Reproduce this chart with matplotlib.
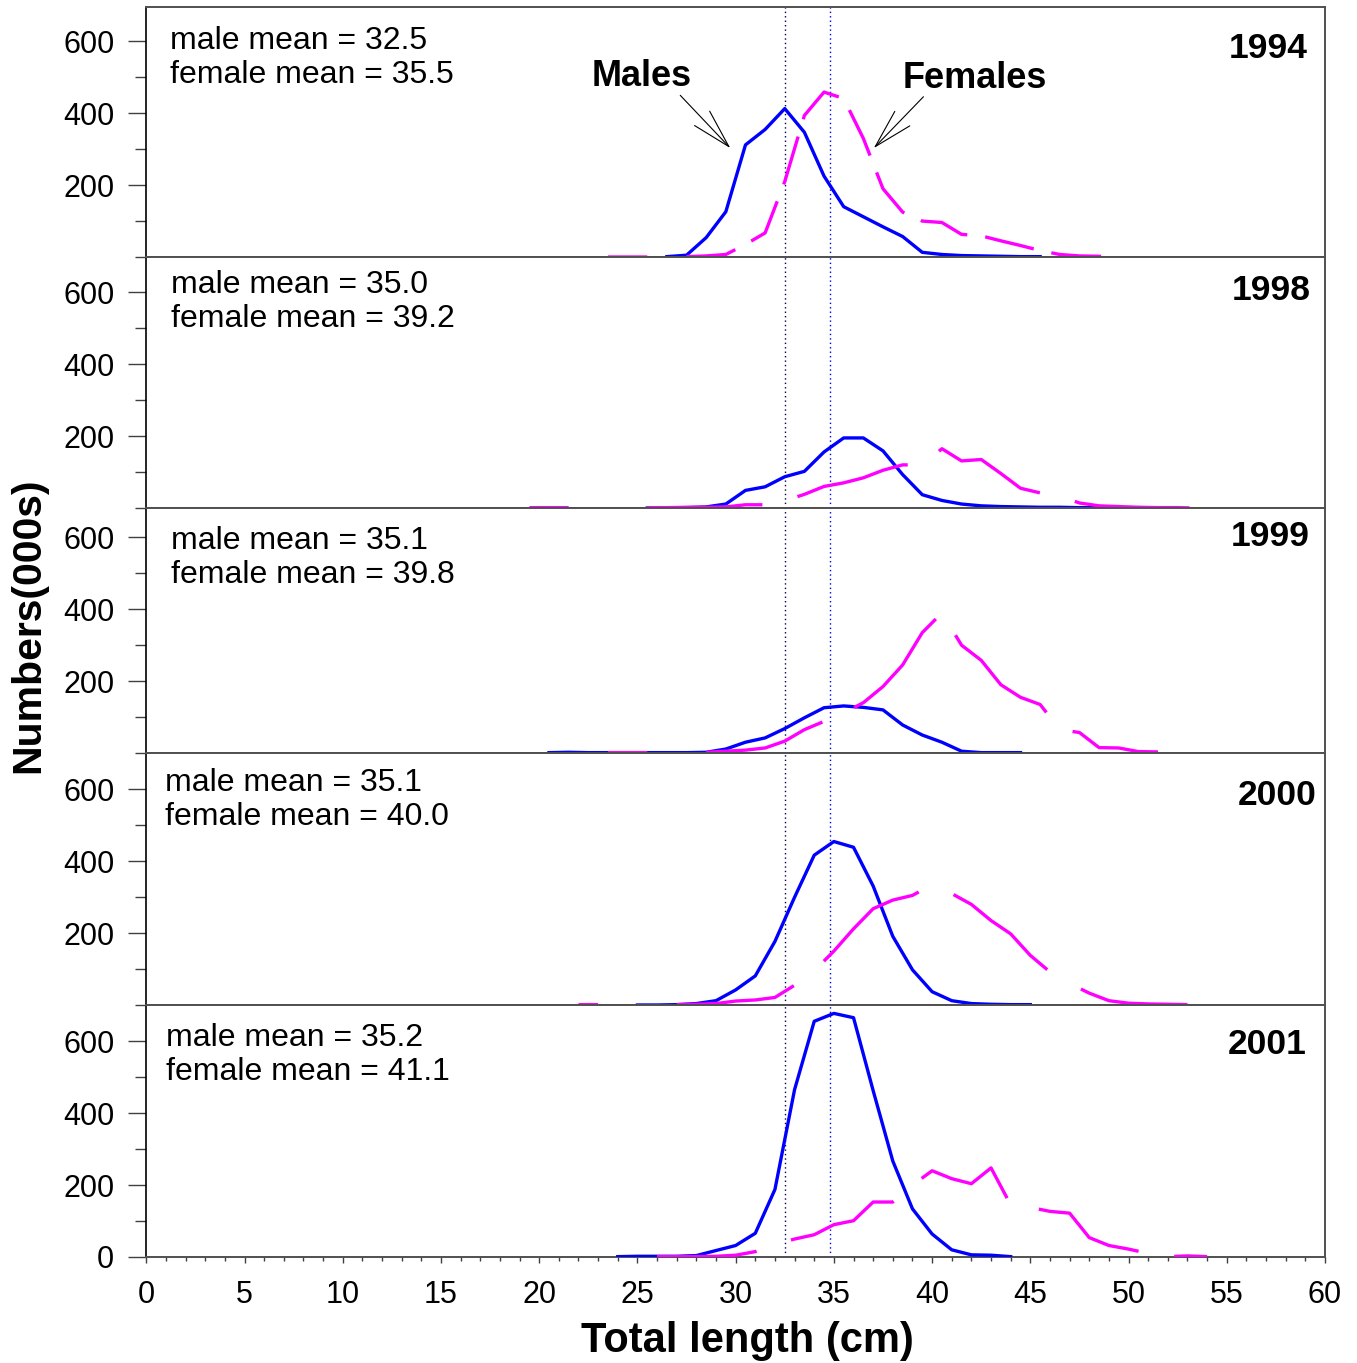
import numpy as np
import matplotlib.pyplot as plt

plt.rcParams['font.family'] = ['Liberation Sans', 'DejaVu Sans']
plt.rcParams['lines.scale_dashes'] = False

nan = np.nan

years = ['1994', '1998', '1999', '2000', '2001']
male_mean = ['32.5', '35.0', '35.1', '35.1', '35.2']
female_mean = ['35.5', '39.2', '39.8', '40.0', '41.1']

# numbers (000s) per length class
m94_x = np.arange(26.5, 46, 1)
m94_y = [1, 5, 54, 126, 312, 355, 413, 347, 225, 140, 112, 84, 57, 13, 7, 4, 3, 2, 1, 1]
f94_x = np.arange(23.5, 50, 1)
f94_y = [0, 0, 0, nan, 1, 3, 7, 35, 67, 210, 394, 459, 441, 330, 190, 125, 100, 96,
         63, 59, 45, 32, 18, 7, 3, 2, 1]

m98_x = np.arange(25.5, 53, 1)
m98_y = [0, 0, 1, 3, 11, 49, 59, 87, 102, 156, 195, 195, 159, 93, 37, 21, 11, 6, 4, 3,
         2, 2, 1, 1, 1, 1, 1, 1]
f98_x = np.arange(19.5, 55, 1)
f98_y = [1, 1, 1, nan, nan, nan, 1, 1, 2, 2, 3, 9, 9, 20, 38, 60, 70, 84, 105, 120, 120,
         165, 131, 135, 96, 55, 42, 33, 14, 6, 4, 2, 1, 1, 0, 0]

m99_x = np.arange(20.5, 45, 1)
m99_y = [1, 2, 1, 1, 1, 1, 1, 1, 2, 11, 30, 42, 68, 98, 126, 131, 127, 120, 78, 50, 30,
         5, 1, 1, 1]
f99_x = np.arange(23.5, 52, 1)
f99_y = [1, 1, 1, nan, nan, 2, 5, 8, 14, 33, 65, 88, 112, 140, 185, 245, 335, 390, 300,
         258, 190, 155, 135, 65, 57, 15, 14, 4, 3]

m00_x = np.arange(25, 46, 1)
m00_y = [0, 0, 1, 4, 12, 42, 81, 177, 300, 417, 455, 439, 331, 191, 98, 37, 12, 4, 2, 1, 1]
f00_x = np.arange(22, 54, 1)
f00_y = [1, 1, nan, nan, nan, 1, 2, 4, 11, 14, 21, 55, 95, 150, 212, 268, 292, 305, 335,
         310, 280, 235, 198, 138, 92, 60, 33, 12, 5, 3, 2, 1]

m01_x = np.arange(24, 45, 1)
m01_y = [1, 2, 2, 2, 4, 18, 32, 66, 188, 466, 656, 678, 666, 463, 267, 134, 64, 20, 6, 5, 1]
f01_x = np.arange(26, 55, 1)
f01_y = [1, 1, 1, 2, 5, 15, 35, 50, 62, 90, 101, 153, 153, 200, 240, 218, 204, 248, 145,
         138, 127, 122, 54, 32, 22, 10, 1, 3, 1]

male_x = [m94_x, m98_x, m99_x, m00_x, m01_x]
male_y = [m94_y, m98_y, m99_y, m00_y, m01_y]
female_x = [f94_x, f98_x, f99_x, f00_x, f01_x]
female_y = [f94_y, f98_y, f99_y, f00_y, f01_y]

W, H = 1357, 1363
fig = plt.figure(figsize=(W / 100, H / 100), dpi=100)

# panel edges in pixels
x0, x1 = 146.3, 1325
tops = [7, 257, 508, 753, 1005]
bots = [257, 508, 753, 1005, 1257]
px_unit = 0.3593
dashes = [(0, (36, 13)), (0, (83, 26)), (0, (88, 25)), (0, (87, 28)), (10, (82, 26))]
mean_pos = [(170, 41), (171, 285), (171, 541), (165, 783), (166, 1038)]
year_pos = [(1308, 48), (1311, 291), (1310, 536), (1317, 795), (1307, 1044)]

for i in range(5):
    h = bots[i] - tops[i]
    ax = fig.add_axes([x0 / W, 1 - bots[i] / H, (x1 - x0) / W, h / H])
    ax.set_xlim(0, 60)
    ax.set_ylim(0, h / px_unit)

    ax.axvline(32.5, color='#000050', lw=1, ls=(0, (1, 2.2)), zorder=1)
    ax.axvline(34.8, color='#0000e0', lw=1, ls=(0, (1, 2.2)), zorder=1)
    ax.plot(male_x[i], male_y[i], color='#0000ff', lw=2.4, zorder=3)
    ax.plot(female_x[i], female_y[i], color='#ff00ff', lw=2.4, zorder=4,
            ls=dashes[i], dash_capstyle='butt')

    for side in ['top', 'right', 'bottom']:
        ax.spines[side].set_color('#505050')
        ax.spines[side].set_linewidth(1.4)
    ax.spines['left'].set_color('black')
    ax.spines['left'].set_linewidth(1.2)

    if i == 4:
        ax.set_yticks([0, 200, 400, 600])
        ax.set_yticks([100, 300, 500], minor=True)
        ax.set_xticks(np.arange(0, 61, 5))
        ax.set_xticks(np.arange(0, 61, 1), minor=True)
        ax.tick_params(axis='x', which='major', length=4.5, width=1, color='#404040',
                       labelsize=22, pad=12)
        ax.tick_params(axis='x', which='minor', length=3, width=1, color='#404040')
    else:
        ax.set_yticks([200, 400, 600])
        ax.set_yticks([0, 100, 300, 500], minor=True)
        ax.tick_params(axis='x', which='both', bottom=False, labelbottom=False)
    ax.tick_params(axis='y', which='major', length=13, width=1, color='#404040',
                   labelsize=22, pad=10)
    ax.tick_params(axis='y', which='minor', length=8, width=1, color='#404040')

    mx, my = mean_pos[i]
    ax.text((mx - x0) / (x1 - x0), (bots[i] - my) / h, 'male mean = ' + male_mean[i],
            transform=ax.transAxes, fontsize=23, va='center', ha='left')
    ax.text((mx - x0) / (x1 - x0), (bots[i] - my - 34) / h,
            'female mean = ' + female_mean[i],
            transform=ax.transAxes, fontsize=23, va='center', ha='left')
    yx, yy = year_pos[i]
    ax.text((yx - x0) / (x1 - x0), (bots[i] - yy) / h, years[i], transform=ax.transAxes,
            fontsize=25.5, fontweight='bold', va='center', ha='right')

    if i == 0:
        arrow = dict(arrowstyle='->, head_length=2.8, head_width=0.75', lw=0.8,
                     color='black', shrinkA=0, shrinkB=0, mutation_scale=10)
        ax.annotate('', xy=(29.73, 303), xytext=(27.18, 450), arrowprops=arrow)
        ax.annotate('', xy=(37.03, 303), xytext=(39.56, 446), arrowprops=arrow)
        ax.text((642 - x0) / (x1 - x0), (bots[0] - 76) / h, 'Males', transform=ax.transAxes,
                fontsize=26, fontweight='bold', ha='center', va='center')
        ax.text((975 - x0) / (x1 - x0), (bots[0] - 78) / h, 'Females',
                transform=ax.transAxes, fontsize=26, fontweight='bold',
                ha='center', va='center')

fig.text(747 / W, 1 - 1341 / H, 'Total length (cm)', fontsize=30, fontweight='bold',
         ha='center', va='center')
fig.text(28 / W, 1 - 625 / H, 'Numbers(000s)', fontsize=29.5, fontweight='bold',
         ha='center', va='center', rotation=90)

fig.savefig('out.png', dpi=100, facecolor='white')
